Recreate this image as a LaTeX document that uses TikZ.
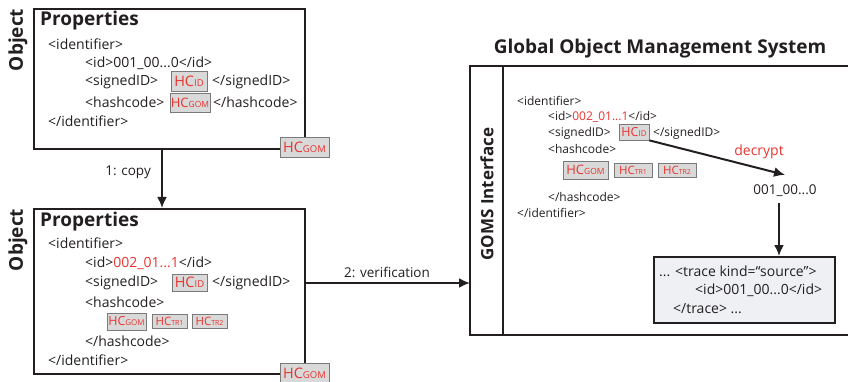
\documentclass[tikz,border=0pt]{standalone}
\usepackage{fontspec}
\setmainfont{Open Sans}
\usetikzlibrary{arrows.meta}

\definecolor{ink}{HTML}{231F20}
\definecolor{hcred}{HTML}{E8342F}
\definecolor{hcfill}{HTML}{D9D9D9}
\definecolor{hcline}{HTML}{7A7A7A}
\definecolor{tracefill}{HTML}{EEF0F3}

% hash-code label: "HC" followed by a smaller tag
\newcommand\hclabel[3]{{\fontsize{#2}{#2}\selectfont HC}{\fontsize{#3}{#3}\selectfont #1}}

\begin{document}
\begin{tikzpicture}[x=1pt,y=-1pt,
  objbox/.style={draw=ink, line width=2.3pt, anchor=north west, inner sep=0pt},
  xml/.style={anchor=west, inner sep=0pt, text=ink, font=\fontsize{14}{16}\selectfont},
  xmls/.style={anchor=west, inner sep=0pt, text=ink, font=\fontsize{12}{13}\selectfont},
  title/.style={inner sep=0pt, text=ink, font=\bfseries\fontsize{19}{21}\selectfont},
  sidelabel/.style={inner sep=0pt, text=ink, rotate=90, font=\bfseries\fontsize{19}{21}\selectfont},
  hc/.style={draw=hcline, fill=hcfill, line width=0.8pt, inner sep=0pt, text=hcred},
  lbl/.style={inner sep=0pt, text=ink, font=\fontsize{13.5}{16}\selectfont},
  arr/.style={draw=ink, line width=2pt, -{Latex[length=11pt,width=10pt]}}]

\useasboundingbox (0,0) rectangle (848,382);
\clip (0,0) rectangle (848,382);

% ---------- source object ----------
\node[objbox, minimum width=271pt, minimum height=140pt] (topbox) at (33,8) {};
\node[sidelabel] (objA) at (18,40) {Object};
\node[title, anchor=west] (propA) at (40,21) {Properties};
\node[xml] (identA) at (48,44) {<identifier>};
\node[xml] (idA) at (85,63) {<id>001\_00...0</id>};
\node[xml] (sigA) at (85,82) {<signedID>};
\node[hc, minimum width=36pt, minimum height=20pt] (hcidA) at (189,81) {\hclabel{ID}{14.5}{9.5}};
\node[xml] (sigendA) at (212,82) {</signedID>};
\node[xml] (hashA) at (85,102) {<hashcode>};
\node[hc, minimum width=40pt, minimum height=19pt] (hcgomA) at (190,102.5) {\hclabel{GOM}{13}{8.5}};
\node[xml] (hashendA) at (213,102) {</hashcode>};
\node[xml] (identendA) at (48,121) {</identifier>};
\node[hc, minimum width=49pt, minimum height=20pt] (cornerA) at (304.5,147) {\hclabel{GOM}{14.5}{9.5}};

% ---------- copied object ----------
\node[objbox, minimum width=271pt, minimum height=165pt] (botbox) at (33,208) {};
\node[sidelabel] (objB) at (18,240) {Object};
\node[title, anchor=west] (propB) at (40,222) {Properties};
\node[xml] (identB) at (48,243) {<identifier>};
\node[xml] (idB) at (85,263) {<id>\textcolor{hcred}{002\_01...1}</id>};
\node[xml] (sigB) at (85,283) {<signedID>};
\node[hc, minimum width=35pt, minimum height=17pt] (hcidB) at (189.5,282.5) {\hclabel{ID}{14.5}{9.5}};
\node[xml] (sigendB) at (212,283) {</signedID>};
\node[xml] (hashB) at (85,302) {<hashcode>};
\node[hc, minimum width=39pt, minimum height=17pt] (hcgomB) at (126.5,321.5) {\hclabel{GOM}{12.5}{8}};
\node[hc, minimum width=35pt, minimum height=14pt] (hctroB) at (169.5,321.5) {\hclabel{TR1}{11.5}{7}};
\node[hc, minimum width=35pt, minimum height=14pt] (hcttB) at (209.5,321.5) {\hclabel{TR2}{11.5}{7}};
\node[xml] (hashendB) at (85,341) {</hashcode>};
\node[xml] (identendB) at (48,360) {</identifier>};
\node[hc, minimum width=49pt, minimum height=20pt] (cornerB) at (304.5,373) {\hclabel{GOM}{14.5}{9.5}};

% step 1: copy
\coordinate (copyx) at (162,0);
\draw[arr] (topbox.south -| copyx) -- (botbox.north -| copyx);
\node[lbl, anchor=east] (copylbl) at (151,172) {1: copy};

% ---------- GOMS ----------
\coordinate (gomsTL) at (470,66);
\coordinate (gomsBL) at (470,335);
\coordinate (gomsTR) at (860,66);
\coordinate (gomsBR) at (860,335);
\draw[ink, line width=2.3pt] (gomsTR) -- (gomsTL) -- (gomsBL) -- (gomsBR);
\draw[ink, line width=2.3pt] (503,66) -- (503,335);
\node[inner sep=0pt, text=ink, font=\bfseries\fontsize{19}{21}\selectfont] (gomstitle) at (660,49) {Global Object Management System};
\node[inner sep=0pt, text=ink, rotate=90, font=\bfseries\fontsize{17}{19}\selectfont] (gomsif) at (487,194) {GOMS Interface};

\node[xmls] (identC) at (517,101) {<identifier>};
\node[xmls] (idC) at (548,117) {<id>\textcolor{hcred}{002\_01...1}</id>};
\node[xmls] (sigC) at (548,133) {<signedID>};
\node[hc, minimum width=30pt, minimum height=16pt] (hcidC) at (634,132) {\hclabel{ID}{12.5}{8}};
\node[xmls] (sigendC) at (653,133) {</signedID>};
\node[xmls] (hashC) at (548,149) {<hashcode>};
\node[hc, minimum width=45pt, minimum height=18pt] (hcgomC) at (585.5,170) {\hclabel{GOM}{13}{8.5}};
\node[hc, minimum width=38pt, minimum height=14pt] (hctroC) at (633,170) {\hclabel{TR1}{11.5}{7}};
\node[hc, minimum width=38pt, minimum height=14pt] (hcttC) at (677,170) {\hclabel{TR2}{11.5}{7}};
\node[xmls] (hashendC) at (548,197) {</hashcode>};
\node[xmls] (identendC) at (517,213) {</identifier>};

\node[inner sep=0pt, text=ink, font=\fontsize{13.5}{15}\selectfont] (dec) at (785,191) {001\_00...0};
\draw[arr] (hcidC.south east) -- ([yshift=10pt]dec.north);
\node[inner sep=0pt, text=hcred, font=\fontsize{14}{16}\selectfont] (declbl) at (759,152) {decrypt};

\node[objbox, fill=tracefill, minimum width=181pt, minimum height=66pt] (trace) at (653,256) {};
\node[xml] (trA) at (659,271) {... <trace kind=“source”>};
\node[xml] (trB) at (695,290) {<id>001\_00...0</id>};
\node[xml] (trC) at (673,309) {</trace> ...};

\coordinate (downx) at (779,203);
\draw[arr] (downx) -- (downx |- trace.north);

% step 2: verification
\coordinate (verify) at (0,283);
\draw[arr] (botbox.east |- verify) -- (gomsTL |- verify);
\node[lbl] (verlbl) at (387,272) {2: verification};
\end{tikzpicture}
\end{document}
